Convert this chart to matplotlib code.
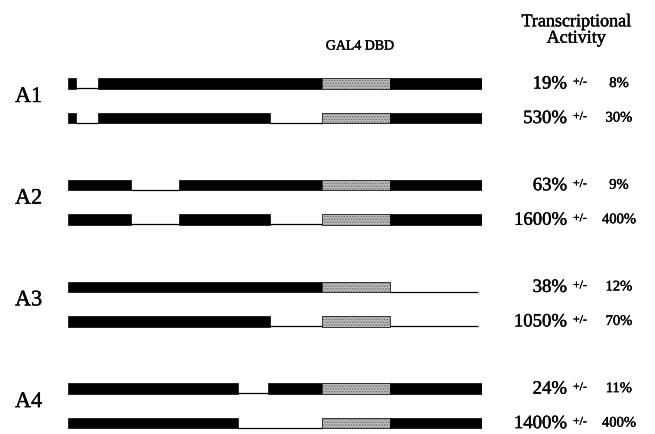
import matplotlib
matplotlib.use("Agg")
import matplotlib.pyplot as plt
import matplotlib.patheffects as pe
from matplotlib.patches import Rectangle

plt.rcParams["font.family"] = ["Liberation Serif", "DejaVu Serif"]
plt.rcParams["hatch.linewidth"] = 0.7

# Construct groups and the two constructs drawn in each
group_labels = ["A1", "A2", "A3", "A4"]

# Segment breakpoints along each construct (arbitrary sequence units)
segment_edges = [
    [0, 8, 30, 254, 322, 414],
    [0, 8, 30, 202, 254, 322, 414],
    [0, 63, 111, 254, 322, 414],
    [0, 63, 111, 202, 254, 322, 414],
    [0, 254, 322, 410],
    [0, 202, 254, 322, 410],
    [0, 170, 200, 254, 322, 414],
    [0, 170, 254, 322, 414],
]
segment_kinds = [
    ["domain", "deleted", "domain", "dbd", "domain"],
    ["domain", "deleted", "domain", "deleted", "dbd", "domain"],
    ["domain", "deleted", "domain", "dbd", "domain"],
    ["domain", "deleted", "domain", "deleted", "dbd", "domain"],
    ["domain", "dbd", "deleted"],
    ["domain", "deleted", "dbd", "deleted"],
    ["domain", "deleted", "domain", "dbd", "domain"],
    ["domain", "deleted", "dbd", "domain"],
]

# Transcriptional activity (%) and its spread
activity = [19, 530, 63, 1600, 38, 1050, 24, 1400]
activity_err = [8, 30, 9, 400, 12, 70, 11, 400]

W, H = 655, 434
fig = plt.figure(figsize=(W / 100, H / 100), dpi=100)
fig.patch.set_facecolor("white")

# Slightly heavier strokes for all lettering
ink = [pe.withStroke(linewidth=0.3, foreground="black")]

# Axes for the text, in pixel-like units
ax_t = fig.add_axes([0, 0, 1, 1])
ax_t.set_xlim(0, W)
ax_t.set_ylim(H, 0)
ax_t.axis("off")

# Axes for the constructs
x0, span = 68, 414
ax_c = fig.add_axes([x0 / W, 0, span / W, 1])
ax_c.set_xlim(0, span)
ax_c.set_ylim(H, 0)
ax_c.axis("off")

first_row = 83.5
group_step = 101.7
pair_step = 34.5
bar_h = 10.5

row_y = []
for g in range(len(group_labels)):
    top = first_row + g * group_step
    row_y += [top, top + pair_step]

for y, edges, kinds in zip(row_y, segment_edges, segment_kinds):
    for a, b, kind in zip(edges[:-1], edges[1:], kinds):
        if kind == "domain":
            ax_c.add_patch(Rectangle((a, y - bar_h / 2), b - a, bar_h,
                                     facecolor="black", edgecolor="black",
                                     linewidth=0.5))
        elif kind == "dbd":
            ax_c.add_patch(Rectangle((a, y - bar_h / 2), b - a, bar_h,
                                     facecolor="#b8b8b8", edgecolor="#707070",
                                     hatch="......", linewidth=0.0))
            ax_c.add_patch(Rectangle((a, y - bar_h / 2), b - a, bar_h,
                                     facecolor="none", edgecolor="#333333",
                                     linewidth=0.7))
        else:
            ax_c.plot([a, b], [y + bar_h / 2 - 0.6] * 2, color="black",
                      linewidth=0.9, solid_capstyle="butt")

for g, lab in enumerate(group_labels):
    yl = row_y[2 * g] + 14
    ax_t.text(15, yl, lab, fontsize=16, ha="left", va="center",
              path_effects=ink)

for y, val, err in zip(row_y, activity, activity_err):
    ax_t.text(567, y + 0.5, f"{val}%", fontsize=13.5, ha="right",
              va="center", path_effects=ink)
    ax_t.text(573, y - 1.5, "+/-", fontsize=8.5, ha="left", va="center",
              path_effects=ink)
    ax_t.text(619, y, f"{err}%", fontsize=10.5, ha="center", va="center",
              path_effects=ink)

ax_t.text(360, 46, "GAL4 DBD", fontsize=10, ha="center", va="center",
          path_effects=ink)
ax_t.text(576, 30, "Transcriptional\nActivity", fontsize=13, ha="center",
          va="center", linespacing=0.95, path_effects=ink)

fig.savefig("out.png", dpi=100, facecolor="white")
